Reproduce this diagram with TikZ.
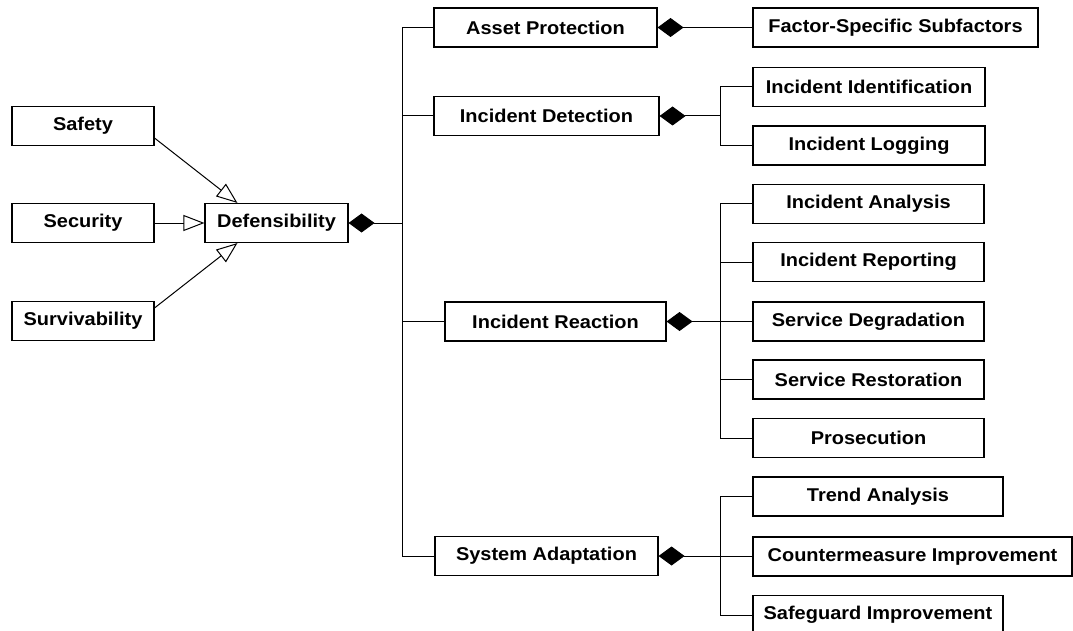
\documentclass[tikz,border=0pt]{standalone}
\usepackage{fontspec}
\setmainfont{Liberation Sans}[FakeStretch=1.08]
\usetikzlibrary{arrows.meta}
\begin{document}
\begin{tikzpicture}[x=1pt,y=-1pt,
  box/.style={draw, line width=1.1pt, inner sep=0pt, minimum height=39pt,
    font=\fontsize{18.5}{20}\selectfont\bfseries},
  conn/.style={line width=1pt},
  gen/.style={conn, -{Triangle[open,length=21pt,width=16pt,line width=1pt]}},
  comp/.style={conn, {Diamond[length=26pt,width=19pt]}-}]
\fill[white] (0,0) rectangle (1073,631);
\useasboundingbox (0,0) rectangle (1073,631);
% left column
\node[box, minimum width=142pt] (saf) at (83,126) {Safety};
\node[box, minimum width=142pt] (sec) at (83,223) {Security};
\node[box, minimum width=142pt] (sur) at (83,321) {Survivability};
\node[box, minimum width=143pt] (def) at (276.5,223) {Defensibility};
% middle column
\node[box, minimum width=223pt] (ap) at (545.5,27.5) {Asset Protection};
\node[box, minimum width=225pt] (id) at (546.5,116) {Incident Detection};
\node[box, minimum width=221pt] (ir) at (555.5,321.5) {Incident Reaction};
\node[box, minimum width=223pt] (sa) at (546.5,556) {System Adaptation};
% right column
\node[box, minimum width=285pt] (fs) at (895.5,27.5) {Factor-Specific Subfactors};
\node[box, minimum width=232pt] (ii) at (869,87) {Incident Identification};
\node[box, minimum width=232pt] (il) at (869,145.5) {Incident Logging};
\node[box, minimum width=231pt] (ia) at (868.5,204) {Incident Analysis};
\node[box, minimum width=231pt] (rp) at (868.5,262) {Incident Reporting};
\node[box, minimum width=231pt] (sd) at (868.5,321.5) {Service Degradation};
\node[box, minimum width=231pt] (sr) at (868.5,379.5) {Service Restoration};
\node[box, minimum width=231pt] (pr) at (868.5,438) {Prosecution};
\node[box, minimum width=250pt] (ta) at (878,496.5) {Trend Analysis};
\node[box, minimum width=319pt] (cm) at (912.5,556.5) {Countermeasure Improvement};
\node[box, minimum width=250pt] (sg) at (878,615) {Safeguard Improvement};
% branch coordinates
\coordinate (tr) at (402,0);
\coordinate (br) at (720,0);
% generalization arrows
\draw[gen] ([yshift=8pt]saf.south east) -- ([xshift=33pt]def.north west);
\draw[gen] (sec.east) -- (def.west);
\draw[gen] ([yshift=-7pt]sur.north east) -- ([xshift=33pt]def.south west);
% defensibility trunk
\draw[comp] (def.east) -- (def.east -| tr);
\draw[conn] (ap.west) -- (ap.west -| tr) |- (sa.west);
\draw[conn] (id.west) -- (id.west -| tr);
\draw[conn] (ir.west) -- (ir.west -| tr);
% asset protection
\draw[comp] (ap.east) -- (fs.west);
% incident detection
\draw[comp] (id.east) -- (id.east -| br);
\draw[conn] (ii.west) -- (ii.west -| br) |- (il.west);
% incident reaction
\draw[comp] (ir.east) -- (ir.east -| sd.west);
\draw[conn] (ia.west) -- (ia.west -| br) |- (pr.west);
\draw[conn] (rp.west) -- (rp.west -| br);
\draw[conn] (sr.west) -- (sr.west -| br);
% system adaptation
\draw[comp] (sa.east) -- (sa.east -| cm.west);
\draw[conn] (ta.west) -- (ta.west -| br) |- (sg.west);
\end{tikzpicture}
\end{document}
